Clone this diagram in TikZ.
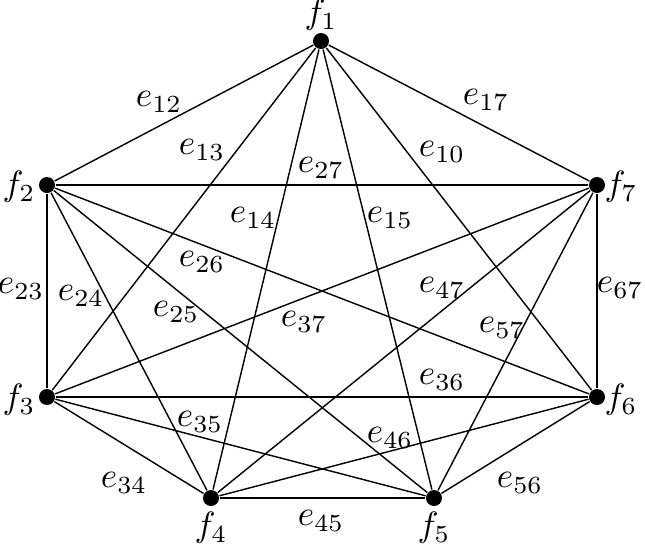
\documentclass[tikz,border=0pt]{standalone}
\usetikzlibrary{positioning}
\begin{document}
\begin{tikzpicture}[x=0.01cm,y=-0.01cm,
vertex/.style={
% The shape:
circle,fill=black,
% The size:
inner sep=0pt,minimum size=1.6mm},
elabel/.style={inner sep=1pt}]
\useasboundingbox (0,0) rectangle (645,553);

\node (f1) [vertex] at (321,41) {};
\node (f2) [vertex] at (47,185) {};
\node (f3) [vertex] at (47,397) {};
\node (f4) [vertex] at (211,498) {};
\node (f5) [vertex] at (434,498) {};
\node (f6) [vertex] at (597,397) {};
\node (f7) [vertex] at (597,185) {};

\node (t1) at (321,15) {$f_1$};
\node (t2) at (19,187) {$f_2$};
\node (t3) at (19,400) {$f_3$};
\node (t4) at (211,528) {$f_4$};
\node (t5) at (434,528) {$f_5$};
\node (t6) at (621,400) {$f_6$};
\node (t7) at (621,187) {$f_7$};

\path (f1) edge (f2);
\path (f1) edge (f3);
\path (f1) edge (f4);
\path (f1) edge (f5);
\path (f1) edge (f6);
\path (f1) edge (f7);
\path (f2) edge (f3);
\path (f2) edge (f4);
\path (f2) edge (f5);
\path (f2) edge (f6);
\path (f2) edge (f7);
\path (f3) edge (f4);
\path (f3) edge (f5);
\path (f3) edge (f6);
\path (f3) edge (f7);
\path (f4) edge (f5);
\path (f4) edge (f6);
\path (f4) edge (f7);
\path (f5) edge (f6);
\path (f5) edge (f7);
\path (f6) edge (f7);

\node (e12) [elabel] at (159,102) {$e_{12}$};
\node (e13) [elabel] at (202,150) {$e_{13}$};
\node (e14) [elabel] at (253,218) {$e_{14}$};
\node (e15) [elabel] at (390,218) {$e_{15}$};
\node (e10) [elabel] at (442,152) {$e_{10}$};
\node (e17) [elabel] at (486,100) {$e_{17}$};
\node (e27) [elabel] at (321,168) {$e_{27}$};
\node (e26) [elabel] at (202,262) {$e_{26}$};
\node (e23) [elabel] at (21,289) {$e_{23}$};
\node (e24) [elabel] at (81,296) {$e_{24}$};
\node (e25) [elabel] at (176,312) {$e_{25}$};
\node (e37) [elabel] at (304,322) {$e_{37}$};
\node (e47) [elabel] at (442,288) {$e_{47}$};
\node (e57) [elabel] at (502,328) {$e_{57}$};
\node (e67) [elabel] at (620,288) {$e_{67}$};
\node (e36) [elabel] at (442,380) {$e_{36}$};
\node (e35) [elabel] at (200,422) {$e_{35}$};
\node (e46) [elabel] at (390,438) {$e_{46}$};
\node (e34) [elabel] at (124,483) {$e_{34}$};
\node (e56) [elabel] at (520,483) {$e_{56}$};
\node (e45) [elabel] at (321,521) {$e_{45}$};
\end{tikzpicture}
\end{document}
